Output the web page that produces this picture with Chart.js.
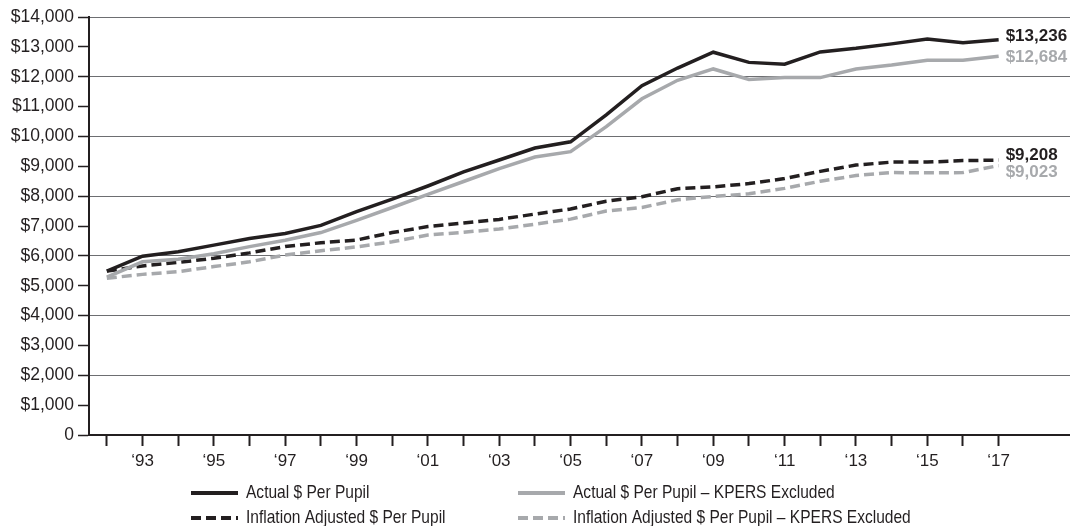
<!DOCTYPE html>
<html>
<head>
<meta charset="utf-8">
<script src="https://cdn.jsdelivr.net/npm/chart.js@4"></script>
<style>
  html, body { margin: 0; padding: 0; background: #fff; }
  #wrap { width: 1070px; height: 526px; }
</style>
</head>
<body>
<div id="wrap"><canvas id="perPupilChart"></canvas></div>
<script>
const years = [1992, 1993, 1994, 1995, 1996, 1997, 1998, 1999, 2000, 2001, 2002, 2003, 2004,
  2005, 2006, 2007, 2008, 2009, 2010, 2011, 2012, 2013, 2014, 2015, 2016, 2017];

const actual = [5490, 5990, 6140, 6360, 6580, 6750, 7020, 7480, 7900, 8340, 8810, 9210, 9610,
  9820, 10720, 11700, 12290, 12820, 12480, 12420, 12830, 12950, 13100, 13260, 13140, 13236];
const actualNoKpers = [5290, 5800, 5890, 6070, 6310, 6520, 6780, 7190, 7620, 8060, 8490, 8920, 9310,
  9490, 10330, 11260, 11880, 12260, 11910, 11970, 11970, 12260, 12390, 12550, 12550, 12684];
const inflationAdj = [5490, 5660, 5780, 5920, 6100, 6310, 6440, 6530, 6780, 6980, 7100, 7220, 7400,
  7570, 7830, 7980, 8250, 8310, 8420, 8590, 8830, 9040, 9140, 9140, 9190, 9208];
const inflationAdjNoKpers = [5250, 5380, 5470, 5640, 5800, 6030, 6170, 6300, 6470, 6700, 6790, 6900, 7060,
  7230, 7500, 7620, 7880, 7990, 8080, 8260, 8500, 8690, 8790, 8780, 8790, 9023];

const seriesNames = [
  "Actual $ Per Pupil",
  "Actual $ Per Pupil \u2013 KPERS Excluded",
  "Inflation Adjusted $ Per Pupil",
  "Inflation Adjusted $ Per Pupil \u2013 KPERS Excluded"
];
const endLabels = ["$13,236", "$12,684", "$9,208", "$9,023"];

const BLACK = "#231f20";
const GRAY = "#a7a9ac";
const numFont = "'Liberation Sans', Arial, sans-serif";

function pts(values) {
  return years.map((yr, i) => ({ x: yr, y: values[i] }));
}

// etiketler son noktanın sağına
const endLabelPlugin = {
  id: "endLabels",
  afterDatasetsDraw(chart) {
    const ctx = chart.ctx;
    const offsets = [-3, 1, -5, 7];
    ctx.save();
    ctx.font = "bold 17px " + numFont;
    ctx.textBaseline = "middle";
    ctx.textAlign = "left";
    chart.data.datasets.forEach((ds, i) => {
      const meta = chart.getDatasetMeta(i);
      const last = meta.data[meta.data.length - 1];
      ctx.fillStyle = ds.borderColor;
      ctx.fillText(endLabels[i], last.x + 7, last.y + offsets[i]);
    });
    ctx.restore();
  }
};

// legend iki sütun, alt kısımda (dar font yok, yatay sıkıştır)
const legendPlugin = {
  id: "twoColLegend",
  afterDraw(chart) {
    const ctx = chart.ctx;
    const cols = [191, 518];
    const rows = [493, 518];
    const order = [0, 2, 1, 3];
    ctx.save();
    ctx.font = "18.5px " + numFont;
    ctx.textBaseline = "middle";
    order.forEach((dsIndex, k) => {
      const ds = chart.data.datasets[dsIndex];
      const x = cols[Math.floor(k / 2)];
      const y = rows[k % 2];
      ctx.strokeStyle = ds.borderColor;
      ctx.lineWidth = 4;
      ctx.setLineDash(ds.borderDash || []);
      ctx.beginPath();
      ctx.moveTo(x, y);
      ctx.lineTo(x + 47, y);
      ctx.stroke();
      ctx.setLineDash([]);
      ctx.save();
      ctx.translate(x + 55, y);
      ctx.scale(0.84, 1);
      ctx.fillStyle = BLACK;
      ctx.fillText(seriesNames[dsIndex], 0, 0);
      ctx.restore();
    });
    ctx.restore();
  }
};

const ctx = document.getElementById("perPupilChart").getContext("2d");

new Chart(ctx, {
  type: "line",
  data: {
    datasets: [
      { label: seriesNames[0], data: pts(actual), borderColor: BLACK, borderWidth: 3.5 },
      { label: seriesNames[1], data: pts(actualNoKpers), borderColor: GRAY, borderWidth: 3.5 },
      { label: seriesNames[2], data: pts(inflationAdj), borderColor: BLACK, borderWidth: 3.5, borderDash: [10, 5] },
      { label: seriesNames[3], data: pts(inflationAdjNoKpers), borderColor: GRAY, borderWidth: 3.5, borderDash: [10, 5] }
    ]
  },
  options: {
    responsive: true,
    maintainAspectRatio: false,
    animation: false,
    layout: { padding: { top: 17, right: 0, bottom: 0, left: 0 } },
    elements: { point: { radius: 0 }, line: { tension: 0 } },
    plugins: {
      legend: { display: false },
      tooltip: { enabled: false }
    },
    scales: {
      x: {
        type: "linear",
        min: 1991.5,
        max: 2019,
        afterBuildTicks: (scale) => {
          scale.ticks = years.map(v => ({ value: v }));
        },
        afterFit: (scale) => { scale.height = 91; },
        ticks: {
          autoSkip: false,
          maxRotation: 0,
          padding: 5,
          color: BLACK,
          font: { family: numFont, size: 17 },
          callback: (v) => (v % 2 === 1 ? "\u2018" + String(v).slice(2) : "")
        },
        grid: {
          drawOnChartArea: false,
          drawTicks: true,
          tickLength: 11,
          tickColor: BLACK,
          tickWidth: 2
        },
        border: { display: true, color: BLACK, width: 2 }
      },
      y: {
        min: 0,
        max: 14000,
        afterFit: (scale) => { scale.width = 89; },
        ticks: {
          stepSize: 1000,
          padding: 4,
          color: BLACK,
          font: { family: numFont, size: 17.5 },
          callback: (v) => (v === 0 ? "0" : "$" + v.toLocaleString("en-US"))
        },
        grid: {
          color: (c) => (c.tick && c.tick.value % 2000 === 0 ? "#6d6e71" : "rgba(0,0,0,0)"),
          lineWidth: 1,
          tickLength: 11,
          tickColor: BLACK,
          tickWidth: 1.5
        },
        border: { display: true, color: BLACK, width: 2 }
      }
    }
  },
  plugins: [endLabelPlugin, legendPlugin]
});
</script>
</body>
</html>
